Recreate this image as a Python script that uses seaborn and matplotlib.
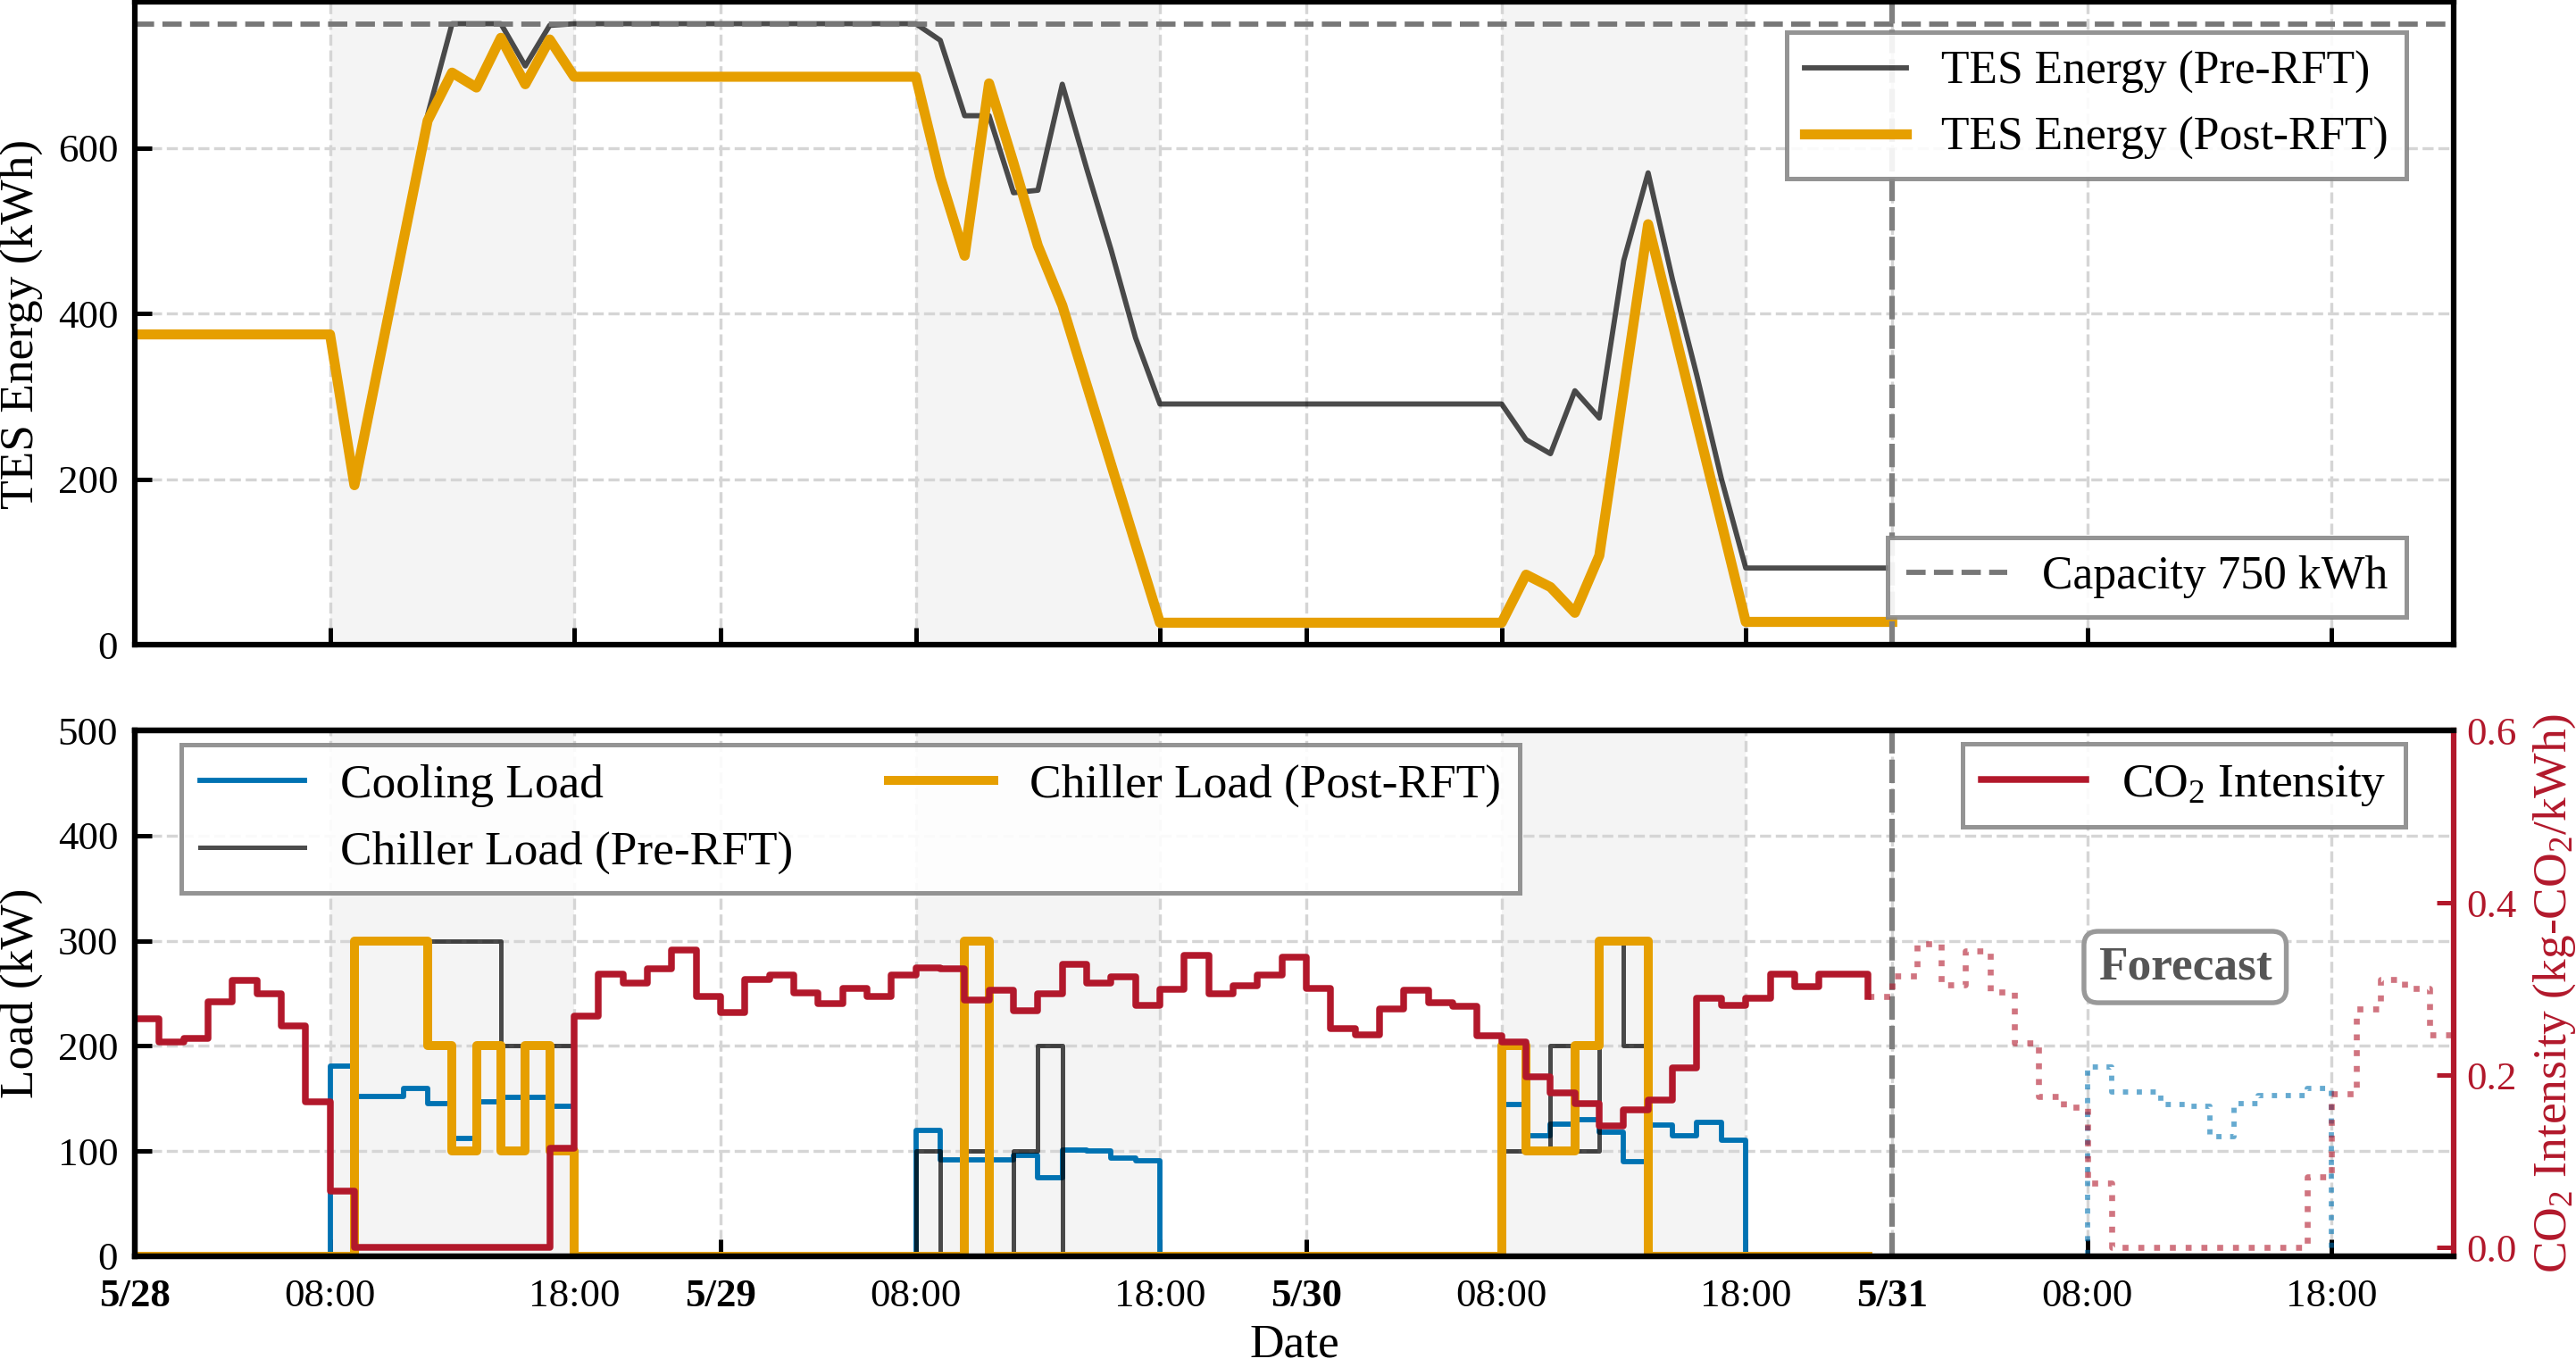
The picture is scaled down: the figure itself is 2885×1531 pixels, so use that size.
import pandas as pd
import matplotlib
matplotlib.use("Agg")
import matplotlib.pyplot as plt
import seaborn as sns

plt.rcParams['font.family'] = ['Liberation Serif', 'DejaVu Serif']
plt.rcParams['mathtext.fontset'] = 'custom'
plt.rcParams['mathtext.rm'] = 'Liberation Serif'
plt.rcParams['mathtext.it'] = 'Liberation Serif:italic'
plt.rcParams['mathtext.bf'] = 'Liberation Serif:bold'
plt.rcParams['axes.linewidth'] = 1.5

# TES state of energy (kWh), hourly from 5/28 00:00 to 5/31 00:00
tes_pre = [375, 375, 375, 375, 375, 375, 375, 375, 375, 193, 340, 487,
           640, 750, 750, 750, 699, 748, 750, 750, 750, 750, 750, 750,
           750, 750, 750, 750, 750, 750, 750, 750, 750, 730, 639, 639,
           546, 549, 677, 575, 477, 371, 291, 291, 291, 291, 291, 291,
           291, 291, 291, 291, 291, 291, 291, 291, 291, 248, 231, 307,
           274, 464, 570, 441, 325, 201, 93, 93, 93, 93, 93, 93,
           93]
tes_post = [375, 375, 375, 375, 375, 375, 375, 375, 375, 193, 340, 487,
            633, 691, 673, 733, 677, 731, 686, 686, 686, 686, 686, 686,
            686, 686, 686, 686, 686, 686, 686, 686, 686, 565, 470, 678,
            582, 482, 410, 314, 218, 122, 27, 27, 27, 27, 27, 27,
            27, 27, 27, 27, 27, 27, 27, 27, 27, 85, 70, 39,
            108, 308, 508, 388, 268, 148, 28, 28, 28, 28, 28, 28,
            28]

# hourly loads (kW), 5/28 00:00 to 5/30 23:00
cooling_load = [0, 0, 0, 0, 0, 0, 0, 0, 181, 152, 152, 160,
                145, 112, 147, 151, 151, 143, 0, 0, 0, 0, 0, 0,
                0, 0, 0, 0, 0, 0, 0, 0, 120, 92, 92, 92,
                96, 75, 101, 100, 93, 91, 0, 0, 0, 0, 0, 0,
                0, 0, 0, 0, 0, 0, 0, 0, 144, 115, 126, 130,
                118, 90, 125, 115, 127, 110, 0, 0, 0, 0, 0, 0]
chiller_pre = [0, 0, 0, 0, 0, 0, 0, 0, 0, 300, 300, 300,
               300, 300, 300, 200, 200, 200, 0, 0, 0, 0, 0, 0,
               0, 0, 0, 0, 0, 0, 0, 0, 100, 0, 100, 0,
               100, 200, 0, 0, 0, 0, 0, 0, 0, 0, 0, 0,
               0, 0, 0, 0, 0, 0, 0, 0, 100, 100, 200, 100,
               300, 200, 0, 0, 0, 0, 0, 0, 0, 0, 0, 0]
chiller_post = [0, 0, 0, 0, 0, 0, 0, 0, 0, 300, 300, 300,
                200, 100, 200, 100, 200, 100, 0, 0, 0, 0, 0, 0,
                0, 0, 0, 0, 0, 0, 0, 0, 0, 0, 300, 0,
                0, 0, 0, 0, 0, 0, 0, 0, 0, 0, 0, 0,
                0, 0, 0, 0, 0, 0, 0, 0, 200, 100, 100, 200,
                300, 300, 0, 0, 0, 0, 0, 0, 0, 0, 0, 0]
co2 = [0.266, 0.239, 0.243, 0.285, 0.310, 0.295, 0.257, 0.169, 0.066, 0.0, 0.0, 0.0,
       0.0, 0.0, 0.0, 0.0, 0.0, 0.115, 0.269, 0.317, 0.307, 0.323, 0.345, 0.291,
       0.273, 0.311, 0.316, 0.296, 0.283, 0.301, 0.291, 0.316, 0.325, 0.324, 0.287, 0.299,
       0.275, 0.295, 0.329, 0.307, 0.314, 0.281, 0.300, 0.339, 0.294, 0.304, 0.316, 0.337,
       0.301, 0.254, 0.247, 0.277, 0.299, 0.284, 0.280, 0.246, 0.239, 0.198, 0.180, 0.167,
       0.141, 0.160, 0.171, 0.209, 0.289, 0.281, 0.289, 0.317, 0.303, 0.317, 0.317, 0.291]

# forecast, hourly from 5/30 23:00 to 5/31 23:00
co2_forecast = [0.291, 0.315, 0.352, 0.305, 0.344, 0.297, 0.238, 0.175, 0.163, 0.075,
                0.0, 0.0, 0.0, 0.0, 0.0, 0.0, 0.0, 0.0,
                0.082, 0.179, 0.277, 0.311, 0.301, 0.247, 0.247]
cooling_forecast = [0, 0, 0, 0, 0, 0, 0, 0, 0, 180,
                    156, 156, 144, 143, 114, 145, 153, 153,
                    160, 0, 0, 0, 0, 0, 0]

tick_times = ["2025-05-28 00:00", "2025-05-28 08:00", "2025-05-28 18:00",
              "2025-05-29 00:00", "2025-05-29 08:00", "2025-05-29 18:00",
              "2025-05-30 00:00", "2025-05-30 08:00", "2025-05-30 18:00",
              "2025-05-31 00:00", "2025-05-31 08:00", "2025-05-31 18:00"]
tick_labels = ["5/28", "08:00", "18:00", "5/29", "08:00", "18:00",
               "5/30", "08:00", "18:00", "5/31", "08:00", "18:00"]
shade_days = ["2025-05-28", "2025-05-29", "2025-05-30"]

t_tes = pd.date_range("2025-05-28 00:00", periods=len(tes_pre), freq="h")
t_obs = pd.date_range("2025-05-28 00:00", periods=len(co2), freq="h")
t_fc = pd.date_range("2025-05-30 23:00", periods=len(co2_forecast), freq="h")
t_now = pd.Timestamp("2025-05-31 00:00")

C_ORANGE = "#E69F00"
C_BLUE = "#0072B2"
C_RED = "#B2182B"
C_GRID = "#d5d5d5"
FS_TICK = 10.8
FS_LABEL = 12.8
FS_LEG = 12.4
FS_LEG2 = 12.8

fig = plt.figure(figsize=(2885 / 300, 1531 / 300), dpi=300)
ax1 = fig.add_axes([0.0523, 0.5281, 0.9002, 0.4703])
ax2 = fig.add_axes([0.0523, 0.0810, 0.9002, 0.3847], sharex=ax1)

for ax in (ax1, ax2):
    for d in shade_days:
        ax.axvspan(pd.Timestamp(d + " 08:00"), pd.Timestamp(d + " 18:00"),
                   color="#f4f4f4", zorder=0, lw=0)
    ax.set_axisbelow(True)
    ax.grid(True, ls="--", lw=0.8, color=C_GRID)

# ---- top panel: TES energy
sns.lineplot(x=t_tes, y=tes_pre, ax=ax1, color="black", alpha=0.7, lw=1.4,
             errorbar=None, legend=False)
l_pre = ax1.lines[-1]
sns.lineplot(x=t_tes, y=tes_post, ax=ax1, color=C_ORANGE, lw=2.7,
             errorbar=None, legend=False)
l_post = ax1.lines[-1]
l_cap = ax1.axhline(750, color="#777777", ls="--", lw=1.4)
ax1.axvline(t_now, color="#808080", lw=1.5, dashes=(4.2, 1.1))

ax1.set_ylim(0, 776)
ax1.set_yticks([0, 200, 400, 600])
ax1.set_ylabel("TES Energy (kWh)", fontsize=FS_LABEL)
ax1.set_xlabel("")

leg_kw = dict(fancybox=False, edgecolor="#888888", framealpha=0.9,
              handlelength=2.2, handletextpad=0.75, borderaxespad=0)
leg1 = ax1.legend([l_pre, l_post], ["TES Energy (Pre-RFT)", "TES Energy (Post-RFT)"],
                  loc="upper right", bbox_to_anchor=(0.9796, 0.9535),
                  fontsize=FS_LEG, **leg_kw)
leg1.get_frame().set_linewidth(1.2)
ax1.add_artist(leg1)
leg2 = ax1.legend([l_cap], ["Capacity 750 kWh"], loc="lower right",
                  bbox_to_anchor=(0.9796, 0.0437), fontsize=FS_LEG, **leg_kw)
leg2.get_frame().set_linewidth(1.2)

# ---- bottom panel: loads and CO2 intensity
sns.lineplot(x=t_obs, y=cooling_load, ax=ax2, color=C_BLUE, lw=1.4,
             drawstyle="steps-post", errorbar=None, legend=False)
l_cool = ax2.lines[-1]
sns.lineplot(x=t_fc, y=cooling_forecast, ax=ax2, color=C_BLUE, lw=1.4, alpha=0.6,
             ls=":", drawstyle="steps-post", errorbar=None, legend=False)
sns.lineplot(x=t_obs, y=chiller_pre, ax=ax2, color="black", alpha=0.7, lw=1.2,
             drawstyle="steps-post", errorbar=None, legend=False)
l_cpre = ax2.lines[-1]
sns.lineplot(x=t_obs, y=chiller_post, ax=ax2, color=C_ORANGE, lw=2.4,
             drawstyle="steps-post", errorbar=None, legend=False)
l_cpost = ax2.lines[-1]
ax2.axvline(t_now, color="#808080", lw=1.5, dashes=(4.2, 1.1))

ax2.set_ylim(0, 500)
ax2.set_yticks([0, 100, 200, 300, 400, 500])
ax2.set_ylabel("Load (kW)", fontsize=FS_LABEL)
ax2.set_xlabel("Date", fontsize=FS_LABEL, labelpad=2.5)

leg3 = ax2.legend([l_cool, l_cpre, l_cpost],
                  ["Cooling Load", "Chiller Load (Pre-RFT)", "Chiller Load (Post-RFT)"],
                  loc="upper left", bbox_to_anchor=(0.020, 0.973), ncol=2,
                  columnspacing=2.0, fontsize=FS_LEG2, **leg_kw)
leg3.get_frame().set_linewidth(1.2)

ax2.text(pd.Timestamp("2025-05-31 12:00"), 275, "Forecast", ha="center", va="center",
         fontsize=FS_LABEL, fontweight="bold", color="#555555",
         bbox=dict(boxstyle="round,pad=0.3", fc="white", ec="#999999", lw=1.3))

ax3 = ax2.twinx()
sns.lineplot(x=t_obs, y=co2, ax=ax3, color=C_RED, lw=1.8,
             drawstyle="steps-post", errorbar=None, legend=False)
l_co2 = ax3.lines[-1]
sns.lineplot(x=t_fc, y=co2_forecast, ax=ax3, color=C_RED, lw=1.6, alpha=0.6,
             ls=":", drawstyle="steps-post", errorbar=None, legend=False)
ax3.set_ylim(-0.01, 0.6)
ax3.set_yticks([0.0, 0.2, 0.4, 0.6])
ax3.set_ylabel(r"CO$_2$ Intensity (kg-CO$_2$/kWh)", color=C_RED, fontsize=FS_LABEL)
ax3.spines["right"].set_color(C_RED)
ax2.spines["right"].set_visible(False)
leg4 = ax3.legend([l_co2], [r"CO$_2$ Intensity"], loc="upper right",
                  bbox_to_anchor=(0.9792, 0.9745), fontsize=FS_LEG2, **leg_kw)
leg4.get_frame().set_linewidth(1.2)

# ---- ticks
ax2.set_xlim(pd.Timestamp("2025-05-28 00:00"), pd.Timestamp("2025-05-31 23:00"))
ax2.set_xticks(pd.to_datetime(tick_times))
labels = ax2.set_xticklabels(tick_labels)
for lab, txt in zip(labels, tick_labels):
    if "/" in txt:
        lab.set_fontweight("bold")

for ax in (ax1, ax2):
    ax.tick_params(direction="in", length=4.5, width=1.2, labelsize=FS_TICK, pad=4.5)
ax2.tick_params(axis="x", pad=6.0)
ax1.tick_params(axis="x", labelbottom=False)
ax3.tick_params(axis="y", direction="in", length=4.5, width=1.2, labelsize=FS_TICK,
                pad=3.5, colors=C_RED)

fig.savefig("out.png", dpi=300)
